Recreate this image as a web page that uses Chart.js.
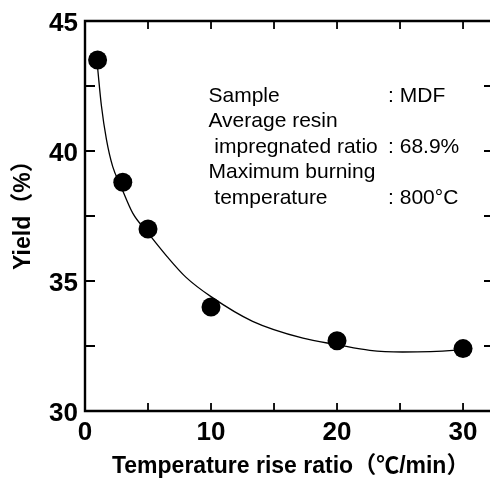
<!DOCTYPE html>
<html>
<head>
<meta charset="utf-8">
<script src="https://cdn.jsdelivr.net/npm/chart.js@4.4.1/dist/chart.umd.min.js"></script>
<style>
  html, body { margin: 0; padding: 0; background: #fff; overflow: hidden; }
</style>
</head>
<body>
<canvas id="graficoResa" width="490" height="480"></canvas>
<script>
// punti misurati
const rateValues = [1, 3, 5, 10, 20, 30];
const yieldValues = [43.5, 38.8, 37.0, 34.0, 32.7, 32.4];

// curva
const curveRates = [1.0, 1.3, 1.7, 2.2, 2.8, 3.8, 5.0, 6.5, 8.0, 10.0, 13.3, 17.3, 20.0, 22.6, 25.2, 29.2, 30.0];
const curveYields = [43.2, 41.75, 40.45, 39.4, 38.7, 37.6, 36.85, 35.95, 35.15, 34.4, 33.45, 32.8, 32.55, 32.33, 32.27, 32.33, 32.38];

// etichette degli assi
const xLabels = [0, 10, 20, 30];
const yLabels = [30, 35, 40, 45];

// riquadro di testo
const infoLines = [
  ['Sample', ': MDF'],
  ['Average resin', ''],
  [' impregnated ratio', ': 68.9%'],
  ['Maximum burning', ''],
  [' temperature', ': 800°C']
];

const FONT = "'Liberation Sans', Arial, 'Noto Sans CJK JP', sans-serif";

// cornice e tacche verso l'interno
const cornice = {
  id: 'cornice',
  afterDatasetsDraw(chart) {
    const ctx = chart.ctx;
    const a = chart.chartArea;
    const xs = chart.scales.x;
    const ys = chart.scales.y;
    ctx.save();
    ctx.strokeStyle = '#000';
    ctx.lineWidth = 2.4;
    ctx.beginPath();
    ctx.moveTo(a.right, a.top);
    ctx.lineTo(a.left, a.top);
    ctx.lineTo(a.left, a.bottom);
    ctx.lineTo(a.right, a.bottom);
    ctx.stroke();

    ctx.lineWidth = 1.8;
    ctx.beginPath();
    xs.ticks.forEach(function(t) {
      if (t.value <= xs.min) return;
      const px = xs.getPixelForValue(t.value);
      ctx.moveTo(px, a.bottom);
      ctx.lineTo(px, a.bottom - 8);
      ctx.moveTo(px, a.top);
      ctx.lineTo(px, a.top + 8);
    });
    ys.ticks.forEach(function(t) {
      if (t.value <= ys.min || t.value >= ys.max) return;
      const py = ys.getPixelForValue(t.value);
      ctx.moveTo(a.left, py);
      ctx.lineTo(a.left + 10, py);
      ctx.moveTo(a.right, py);
      ctx.lineTo(a.right - 6, py);
    });
    ctx.stroke();

    // testo informativo
    ctx.fillStyle = '#000';
    ctx.font = '21px ' + FONT;
    ctx.textBaseline = 'alphabetic';
    ctx.textAlign = 'left';
    const x0 = xs.getPixelForValue(9.8);
    const x1 = xs.getPixelForValue(24.05);
    const y0 = ys.getPixelForValue(41.885);
    infoLines.forEach(function(riga, i) {
      const y = y0 + i * 25.5;
      ctx.fillText(riga[0], x0, y);
      if (riga[1]) ctx.fillText(riga[1], x1, y);
    });
    ctx.restore();
  }
};

document.addEventListener('DOMContentLoaded', function() {
  var ctx = document.getElementById('graficoResa').getContext('2d');
  new Chart(ctx, {
    type: 'scatter',
    data: {
      datasets: [{
        label: 'Yield',
        data: rateValues.map((x, i) => ({ x: x, y: yieldValues[i] })),
        pointRadius: 9.5,
        pointHoverRadius: 9.5,
        pointBackgroundColor: '#000',
        pointBorderWidth: 0,
        order: 0
      }, {
        label: 'Curve',
        data: curveRates.map((x, i) => ({ x: x, y: curveYields[i] })),
        showLine: true,
        pointRadius: 0,
        borderColor: '#000',
        borderWidth: 1.3,
        cubicInterpolationMode: 'monotone',
        order: 1
      }]
    },
    options: {
      responsive: false,
      animation: false,
      devicePixelRatio: 1,
      layout: { autoPadding: false, padding: { top: 21, right: 0, left: 0, bottom: 0 } },
      plugins: { legend: { display: false }, tooltip: { enabled: false } },
      scales: {
        x: {
          type: 'linear',
          min: 0,
          max: 32.14,
          afterFit: function(scale) {
            scale.height = 69;
            scale.paddingLeft = 0;
            scale.paddingRight = 0;
          },
          grid: { display: false, drawTicks: false },
          border: { display: false },
          ticks: {
            stepSize: 5,
            autoSkip: false,
            includeBounds: false,
            maxRotation: 0,
            padding: 6,
            color: '#000',
            font: { family: FONT, size: 26, weight: 'bold' },
            callback: function(value) {
              return xLabels.includes(value) ? value : '';
            }
          },
          title: {
            display: true,
            text: ' Temperature rise ratio（℃/min）',
            color: '#000',
            font: { family: FONT, size: 23, weight: 'bold' },
            padding: { top: 0, bottom: 0 }
          }
        },
        y: {
          min: 30,
          max: 45,
          afterFit: function(scale) {
            scale.width = 85;
            scale.paddingTop = 0;
            scale.paddingBottom = 0;
          },
          grid: { display: false, drawTicks: false },
          border: { display: false },
          ticks: {
            stepSize: 2.5,
            autoSkip: false,
            padding: 7,
            labelOffset: 3,
            color: '#000',
            font: { family: FONT, size: 26, weight: 'bold' },
            callback: function(value) {
              return yLabels.includes(value) ? value : '';
            }
          },
          title: {
            display: true,
            text: '  Yield（%）',
            color: '#000',
            font: { family: FONT, size: 23, weight: 'bold' },
            padding: { top: 10, bottom: 0 }
          }
        }
      }
    },
    plugins: [cornice]
  });
});
</script>
</body>
</html>
